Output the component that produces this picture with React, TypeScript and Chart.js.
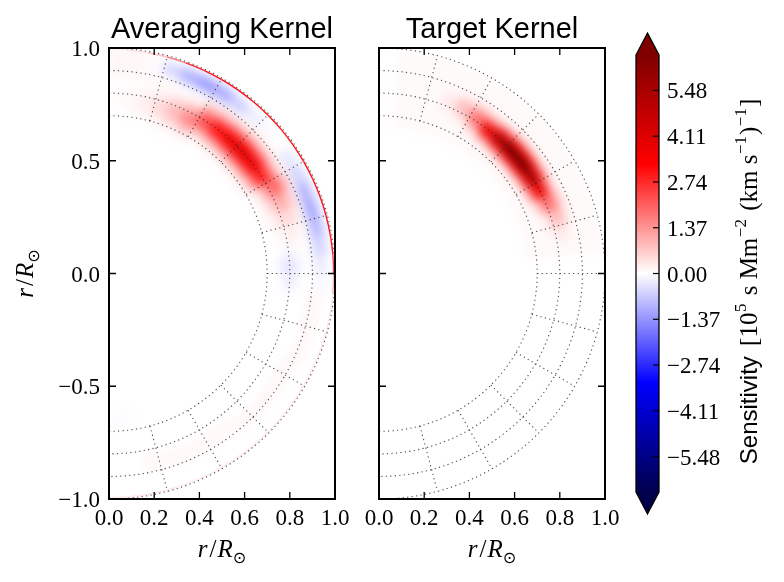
import React, { useEffect, useRef } from 'react';
import { Chart, registerables } from 'chart.js';

Chart.register(...registerables);

const WIDTH = 784;
const HEIGHT = 582;

// ---------------- data ----------------
const PANEL_TITLES = ['Averaging Kernel', 'Target Kernel'];
const X_TICKS = [0.0, 0.2, 0.4, 0.6, 0.8, 1.0];
const Y_TICKS = [-1.0, -0.5, 0.0, 0.5, 1.0];
const COLORBAR_TICKS = [-5.48, -4.11, -2.74, -1.37, 0.0, 1.37, 2.74, 4.11, 5.48];
const COLOR_LIMIT = 6.54;

// polar grid of the kernel maps: ring edges (r/Rsun) and colatitude edges (degrees from the +y axis)
const RING_EDGES = [0.6, 0.625, 0.65, 0.675, 0.7, 0.725, 0.75, 0.775, 0.8, 0.825, 0.85, 0.875, 0.9, 0.925, 0.95, 0.975, 1.0];
const COLAT_EDGES = [0, 5, 10, 15, 20, 25, 30, 35, 40, 45, 50, 55, 60, 65, 70, 75, 80, 85, 90,
  95, 100, 105, 110, 115, 120, 125, 130, 135, 140, 145, 150, 155, 160, 165, 170, 175, 180];

// dotted mesh
const MESH_RADII = [0.7, 0.8, 0.9, 1.0];
const MESH_COLATS = [15, 30, 45, 60, 75, 90, 105, 120, 135, 150, 165];
const MESH_INNER_RADIUS = 0.7;

// Averaging kernel (rows = rings from r=0.6 outward, cols = 5 deg colatitude bins)
const AVG_KERNEL: number[][] = [
  [0, 0, 0, 0, 0, 0, 0, 0, 0, 0, 0, 0, 0, 0, 0, 0, 0, 0, 0, 0, 0, 0, 0, 0, 0, 0, 0, 0, 0, 0, 0, 0, 0, 0, -0.02, -0.03],
  [0, 0, 0, 0, 0, 0, 0, 0, 0, 0, 0, 0, 0, 0, 0, 0, 0, 0, 0, 0, 0, 0, 0, 0, 0, 0, 0, 0, 0, 0, 0, 0, 0, 0, -0.02, -0.03],
  [0, 0, 0, 0.01, 0.02, 0.03, 0, 0, 0, 0, 0, 0, 0, 0, 0, 0, 0, 0, 0, 0, 0, 0, 0, 0, 0, 0, 0, 0, 0, 0, 0, 0, 0, 0, -0.02, -0.02],
  [0, 0.01, 0.02, 0.05, 0.09, 0.15, 0.05, 0.06, 0.07, 0.08, 0.07, 0.06, 0, 0, 0, 0, 0, 0, 0, 0, 0, 0, 0, 0, 0, 0, 0, 0, 0, 0, 0, 0, 0, 0, 0, -0.02],
  [0.01, 0.03, 0.08, 0.16, 0.29, 0.49, 0.22, 0.3, 0.36, 0.38, 0.35, 0.28, 0.04, 0.02, 0, 0, 0, 0, 0, 0, 0, 0, 0, 0, 0, 0, 0, 0, 0, 0, 0, 0, 0, 0, 0, 0],
  [0.03, 0.07, 0.16, 0.34, 0.64, 1.06, 0.73, 0.97, 1.16, 1.24, 1.16, 0.91, 0.18, 0.1, 0.05, 0, 0, 0, 0, 0, 0, 0, 0, 0, 0, 0, 0, 0, 0, 0, 0, 0, 0, 0, 0, 0],
  [0.04, 0.1, 0.24, 0.51, 0.94, 1.57, 1.58, 2.11, 2.52, 2.7, 2.52, 1.97, 0.6, 0.33, 0.15, 0.06, 0, -0.15, 0, 0, 0, 0, 0, 0, 0, 0, 0, 0, 0, 0, 0, 0, 0, 0, 0, 0],
  [0.04, 0.1, 0.24, 0.51, 0.94, 1.57, 2.34, 3.13, 3.74, 4.0, 3.73, 2.92, 1.3, 0.72, 0.33, 0.13, -0.11, -0.35, -0.25, 0, 0, 0, 0, 0, 0, 0, 0, 0, 0, 0, 0, 0, 0, 0, 0, 0],
  [0.03, 0.07, 0.16, 0.34, 0.64, 1.06, 2.34, 3.13, 3.74, 4.0, 3.73, 2.92, 1.93, 1.07, 0.5, 0.2, -0.09, -0.35, -0.25, 0, 0, 0, 0, 0, 0, 0, 0, 0, 0, 0, 0, 0, 0, 0, 0, 0],
  [0.01, 0.03, 0.08, 0.16, 0.29, 0.49, 1.58, 2.11, 2.52, 2.7, 2.52, 1.97, 1.93, 1.07, 0.5, 0.2, 0.06, -0.15, 0, 0, 0, 0, 0, 0, 0, 0, 0, 0, 0.07, 0.07, 0.07, 0.07, 0.07, 0.07, 0, 0],
  [0, 0.01, 0.02, 0.05, 0.09, 0.15, 0.73, 0.97, 1.16, 1.24, 1.16, 0.91, 1.3, 0.72, 0.33, 0.13, 0.04, 0, 0, 0, 0, 0, 0, 0.07, 0.07, 0.07, 0.07, 0.07, 0.11, 0.11, 0.11, 0.11, 0.11, 0.11, 0, 0],
  [0.1, 0.1, 0.1, 0.08, 0.02, 0.03, 0.22, 0.3, 0.36, 0.38, 0.35, 0.28, 0.6, 0.33, 0.15, 0.06, 0.02, 0, 0, 0.08, 0.08, 0.08, 0.08, 0.11, 0.11, 0.11, 0.11, 0.11, 0.07, 0.07, 0.07, 0.07, 0.07, 0.07, 0, 0],
  [0.1, 0.1, 0.06, -0.08, -0.34, -0.42, -0.31, -0.15, -0.01, 0.05, 0.07, -0.09, -0.13, -0.38, -0.5, -0.43, -0.28, -0.13, -0.04, 0.11, 0.11, 0.11, 0.11, 0.07, 0.07, 0.07, 0.07, 0.07, 0, 0, 0, 0, 0, 0, 0, 0],
  [0.1, 0.1, -0.07, -0.63, -1.2, -1.5, -1.27, -0.73, -0.28, -0.07, 0, -0.38, -0.74, -1.2, -1.38, -1.15, -0.7, -0.32, -0.1, 0.06, 0.06, 0.06, 0.06, 0, 0, 0, 0, 0, 0, 0, 0, 0, 0, 0, 0, 0],
  [0.1, 0.1, 0, -0.45, -0.83, -1.05, -0.9, -0.52, -0.2, -0.06, 0, -0.2, -0.42, -0.66, -0.74, -0.62, -0.38, -0.17, -0.06, 0, 0, 0, 0, 0, 0, 0, 0, 0, 0, 0, 0, 0, 0, 0, 0, 0],
  [0.1, 0.1, 0.08, -0.07, -0.14, -0.17, -0.14, -0.08, -0.03, 0, 0, -0.02, -0.05, -0.08, -0.1, -0.08, -0.05, -0.02, 0, 0, 0, 0, 0, 0, 0, 0, 0, 0, 0, 0, 0, 0, 0, 0, 0, 0],
];
// thin sensitivity layer right at the surface (same colatitude bins)
const AVG_SURFACE = [0.2, 0.4, 0.8, 1.6, 2.8, 3.0, 3.0, 3.0, 3.0, 3.0, 3.0, 3.0, 3.0, 3.0, 3.0, 3.0, 3.0, 2.5,
  1.0, 0.3, 0.3, 0.3, 0.3, 0.3, 0.3, 0.3, 0.3, 0.3, 0.3, 0.3, 0.3, 0.3, 0.3, 0.3, 0.3, 0.3];

// Target kernel
const TARGET_KERNEL: number[][] = [
  [0, 0, 0, 0, 0, 0, 0, 0, 0, 0, 0, 0, 0, 0, 0, 0, 0, 0, 0, 0, 0, 0, 0, 0, 0, 0, 0, 0, 0, 0, 0, 0, 0, 0, 0, 0],
  [0, 0, 0, 0, 0, 0, 0, 0, 0, 0, 0, 0, 0, 0, 0, 0, 0, 0, 0, 0, 0, 0, 0, 0, 0, 0, 0, 0, 0, 0, 0, 0, 0, 0, 0, 0],
  [0, 0.07, 0.07, 0.07, 0.07, 0.07, 0.07, 0.07, 0.07, 0.07, 0.07, 0.07, 0.07, 0.07, 0.07, 0.07, 0.07, 0, 0, 0, 0, 0, 0, 0, 0, 0, 0, 0, 0, 0, 0, 0, 0, 0, 0, 0],
  [0, 0.07, 0.07, 0.07, 0.07, 0.07, 0.07, 0.07, 0.07, 0.07, 0.07, 0.07, 0.07, 0.07, 0.07, 0.07, 0.07, 0, 0, 0, 0, 0, 0, 0, 0, 0, 0, 0, 0, 0, 0, 0, 0, 0, 0, 0],
  [0, 0.07, 0.07, 0.07, 0.07, 0.07, 0.07, 0.07, 0.07, 0.11, 0.11, 0.07, 0.07, 0.07, 0.07, 0.07, 0.07, 0, 0, 0, 0, 0, 0, 0, 0, 0, 0, 0, 0, 0, 0, 0, 0, 0, 0, 0],
  [0, 0.07, 0.07, 0.07, 0.07, 0.07, 0.15, 0.47, 0.71, 0.87, 0.87, 0.71, 0.47, 0.15, 0.07, 0.07, 0.07, 0, 0, 0, 0, 0, 0, 0, 0, 0, 0, 0, 0, 0, 0, 0, 0, 0, 0, 0],
  [0, 0.07, 0.07, 0.07, 0.07, 0.11, 0.63, 1.86, 2.83, 3.4, 3.4, 2.83, 1.86, 0.63, 0.11, 0.07, 0.07, 0, 0, 0, 0, 0, 0, 0, 0, 0, 0, 0, 0, 0, 0, 0, 0, 0, 0, 0],
  [0, 0.07, 0.07, 0.07, 0.16, 0.45, 1.51, 3.74, 5.5, 6.6, 6.6, 5.5, 3.74, 1.51, 0.45, 0.16, 0.07, 0, 0, 0, 0, 0, 0, 0, 0, 0, 0, 0, 0, 0, 0, 0, 0, 0, 0, 0],
  [0, 0.07, 0.07, 0.07, 0.31, 0.9, 2.02, 3.74, 5.5, 6.6, 6.6, 5.5, 3.74, 2.02, 0.9, 0.31, 0.07, 0, 0, 0, 0, 0, 0, 0, 0, 0, 0, 0, 0, 0, 0, 0, 0, 0, 0, 0],
  [0, 0.07, 0.07, 0.07, 0.31, 0.9, 1.51, 1.86, 2.83, 3.4, 3.4, 2.83, 1.86, 1.51, 0.9, 0.31, 0.07, 0, 0, 0, 0, 0, 0, 0, 0, 0, 0, 0, 0, 0, 0, 0, 0, 0, 0, 0],
  [0, 0.07, 0.07, 0.07, 0.16, 0.45, 0.63, 0.47, 0.71, 0.87, 0.87, 0.71, 0.47, 0.63, 0.45, 0.16, 0.07, 0, 0, 0, 0, 0, 0, 0, 0, 0, 0, 0, 0, 0, 0, 0, 0, 0, 0, 0],
  [0, 0.07, 0.07, 0.07, 0.07, 0.11, 0.15, 0.07, 0.07, 0.11, 0.11, 0.07, 0.07, 0.15, 0.11, 0.07, 0.07, 0, 0, 0, 0, 0, 0, 0, 0, 0, 0, 0, 0, 0, 0, 0, 0, 0, 0, 0],
  [0, 0.07, 0.07, 0.07, 0.07, 0.07, 0.07, 0.07, 0.07, 0.07, 0.07, 0.07, 0.07, 0.07, 0.07, 0.07, 0.07, 0, 0, 0, 0, 0, 0, 0, 0, 0, 0, 0, 0, 0, 0, 0, 0, 0, 0, 0],
  [0, 0.07, 0.07, 0.07, 0.07, 0.07, 0.07, 0.07, 0.07, 0.07, 0.07, 0.07, 0.07, 0.07, 0.07, 0.07, 0.07, 0, 0, 0, 0, 0, 0, 0, 0, 0, 0, 0, 0, 0, 0, 0, 0, 0, 0, 0],
  [0, 0.07, 0.07, 0.07, 0.07, 0.07, 0.07, 0.07, 0.07, 0.07, 0.07, 0.07, 0.07, 0.07, 0.07, 0.07, 0.07, 0, 0, 0, 0, 0, 0, 0, 0, 0, 0, 0, 0, 0, 0, 0, 0, 0, 0, 0],
  [0, 0.07, 0.07, 0.07, 0.07, 0.07, 0.07, 0.07, 0.07, 0.07, 0.07, 0.07, 0.07, 0.07, 0.07, 0.07, 0.07, 0, 0, 0, 0, 0, 0, 0, 0, 0, 0, 0, 0, 0, 0, 0, 0, 0, 0, 0],
];

// ---------------- style ----------------
const SERIF = '"Liberation Serif", "DejaVu Serif", serif';
const SANS = '"Liberation Sans", Arial, sans-serif';
const TICK_FONT = `23px ${SERIF}`;
const SEISMIC = [[0, 0, 0.3], [0, 0, 1], [1, 1, 1], [1, 0, 0], [0.5, 0, 0]];

function seismic(v: number): string {
  let f = (v + COLOR_LIMIT) / (2 * COLOR_LIMIT);
  f = Math.max(0, Math.min(1, f));
  const p = f * 4;
  const k = Math.min(3, Math.floor(p));
  const t = p - k;
  const a = SEISMIC[k];
  const b = SEISMIC[k + 1];
  const c = a.map((x, n) => Math.round(255 * (x + (b[n] - x) * t)));
  return `rgb(${c[0]},${c[1]},${c[2]})`;
}

type Run = { text: string; font: string; dy?: number; gap?: number };

function drawRuns(ctx: CanvasRenderingContext2D, runs: Run[], x: number, y: number, align: 'left' | 'center') {
  const widths = runs.map((r) => {
    ctx.font = r.font;
    return ctx.measureText(r.text).width + (r.gap || 0);
  });
  const total = widths.reduce((a, b) => a + b, 0);
  let cur = align === 'center' ? x - total / 2 : x;
  ctx.textAlign = 'left';
  ctx.textBaseline = 'alphabetic';
  runs.forEach((r, i) => {
    ctx.font = r.font;
    ctx.fillText(r.text, cur, y + (r.dy || 0));
    cur += widths[i];
  });
}

const R_LABEL: Run[] = [
  { text: 'r', font: `italic 25px ${SERIF}`, gap: 2 },
  { text: '/', font: `25px ${SERIF}`, gap: 1 },
  { text: 'R', font: `italic 25px ${SERIF}`, gap: 0 },
  { text: '\u2299', font: `16px "DejaVu Sans", sans-serif`, dy: 6 },
];

const CB_LABEL: Run[] = [
  { text: 'Sensitivity', font: `24px ${SANS}`, gap: 4 },
  { text: ' [10', font: `25px ${SERIF}`, gap: 0.5 },
  { text: '5', font: `17px ${SERIF}`, dy: -11, gap: 2 },
  { text: ' s Mm', font: `25px ${SERIF}`, gap: 0.5 },
  { text: '\u22122', font: `17px ${SERIF}`, dy: -11, gap: 2 },
  { text: ' (km s', font: `25px ${SERIF}`, gap: 0.5 },
  { text: '\u22121', font: `17px ${SERIF}`, dy: -11, gap: 1 },
  { text: ')', font: `25px ${SERIF}`, gap: 0.5 },
  { text: '\u22121', font: `17px ${SERIF}`, dy: -11, gap: 1 },
  { text: ']', font: `25px ${SERIF}` },
];

const fmtSigned = (v: number, d: number) => (v < 0 ? '\u2212' + Math.abs(v).toFixed(d) : v.toFixed(d));
const rad = (deg: number) => (deg * Math.PI) / 180;

type PanelSpec = {
  key: string;
  title: string;
  grid: number[][];
  surface: number[] | null;
  showYLabels: boolean;
  padding: { left: number; right: number; top: number; bottom: number };
};

function makePanelPlugin(spec: PanelSpec) {
  return {
    id: 'kernelPanel' + spec.key,
    afterDraw(chart: any) {
      const ctx: CanvasRenderingContext2D = chart.ctx;
      const xs = chart.scales.x;
      const ys = chart.scales.y;
      const area = chart.chartArea;
      const cx = xs.getPixelForValue(0);
      const cy = ys.getPixelForValue(0);
      const kx = xs.getPixelForValue(1) - cx;
      const ky = cy - ys.getPixelForValue(1);

      // ---- heat map on an offscreen canvas, then smoothed into the half disc
      const off = document.createElement('canvas');
      off.width = chart.width;
      off.height = chart.height;
      const o = off.getContext('2d')!;
      o.fillStyle = '#ffffff';
      o.fillRect(0, 0, off.width, off.height);
      spec.grid.forEach((row, i) => {
        const r0 = RING_EDGES[i];
        const r1 = RING_EDGES[i + 1];
        row.forEach((v, j) => {
          if (Math.abs(v) < 0.005) return;
          const a0 = rad(COLAT_EDGES[j]) - Math.PI / 2;
          const a1 = rad(COLAT_EDGES[j + 1]) - Math.PI / 2;
          o.beginPath();
          o.ellipse(cx, cy, r1 * kx, r1 * ky, 0, a0, a1, false);
          o.ellipse(cx, cy, r0 * kx, r0 * ky, 0, a1, a0, true);
          o.closePath();
          const col = seismic(v);
          o.fillStyle = col;
          o.strokeStyle = col;
          o.lineWidth = 1;
          o.fill();
          o.stroke();
        });
      });
      ctx.save();
      ctx.beginPath();
      ctx.ellipse(cx, cy, kx, ky, 0, -Math.PI / 2, Math.PI / 2, false);
      ctx.closePath();
      ctx.clip();
      ctx.filter = 'blur(5px)';
      ctx.drawImage(off, 0, 0);
      ctx.filter = 'none';
      if (spec.surface) {
        spec.surface.forEach((v, j) => {
          if (Math.abs(v) < 0.05) return;
          const a0 = rad(COLAT_EDGES[j]) - Math.PI / 2;
          const a1 = rad(COLAT_EDGES[j + 1]) - Math.PI / 2;
          ctx.beginPath();
          ctx.ellipse(cx, cy, 0.994 * kx, 0.994 * ky, 0, a0, a1, false);
          ctx.strokeStyle = seismic(v);
          ctx.lineWidth = 1.4;
          ctx.stroke();
        });
      }
      ctx.restore();

      // ---- dotted mesh
      ctx.save();
      ctx.beginPath();
      ctx.rect(area.left, area.top, area.right - area.left, area.bottom - area.top);
      ctx.clip();
      ctx.setLineDash([1.2, 3.3]);
      ctx.strokeStyle = 'rgba(45,45,45,0.85)';
      ctx.lineWidth = 1.1;
      MESH_RADII.forEach((r) => {
        ctx.beginPath();
        ctx.ellipse(cx, cy, r * kx, r * ky, 0, -Math.PI / 2, Math.PI / 2, false);
        ctx.stroke();
      });
      MESH_COLATS.forEach((c) => {
        const s = Math.sin(rad(c));
        const co = Math.cos(rad(c));
        ctx.beginPath();
        ctx.moveTo(xs.getPixelForValue(MESH_INNER_RADIUS * s), ys.getPixelForValue(MESH_INNER_RADIUS * co));
        ctx.lineTo(xs.getPixelForValue(1.0 * s), ys.getPixelForValue(1.0 * co));
        ctx.stroke();
      });
      ctx.restore();

      // ---- frame and inward ticks
      ctx.save();
      ctx.strokeStyle = '#000';
      ctx.lineWidth = 1.3;
      const tl = 7;
      X_TICKS.forEach((v) => {
        const px = xs.getPixelForValue(v);
        ctx.beginPath();
        ctx.moveTo(px, area.bottom);
        ctx.lineTo(px, area.bottom - tl);
        ctx.moveTo(px, area.top);
        ctx.lineTo(px, area.top + tl);
        ctx.stroke();
      });
      Y_TICKS.forEach((v) => {
        const py = ys.getPixelForValue(v);
        ctx.beginPath();
        ctx.moveTo(area.left, py);
        ctx.lineTo(area.left + tl, py);
        ctx.moveTo(area.right, py);
        ctx.lineTo(area.right - tl, py);
        ctx.stroke();
      });
      ctx.lineWidth = 2;
      ctx.strokeRect(area.left, area.top, area.right - area.left, area.bottom - area.top);

      // ---- text
      ctx.fillStyle = '#000';
      ctx.font = TICK_FONT;
      ctx.textAlign = 'center';
      ctx.textBaseline = 'alphabetic';
      X_TICKS.forEach((v) => {
        ctx.fillText(v.toFixed(1), xs.getPixelForValue(v), area.bottom + 26);
      });
      if (spec.showYLabels) {
        ctx.textAlign = 'right';
        Y_TICKS.forEach((v) => {
          ctx.fillText(fmtSigned(v, 1), area.left - 9, ys.getPixelForValue(v) + 8);
        });
      }
      const midX = (area.left + area.right) / 2;
      ctx.font = `29px ${SANS}`;
      ctx.textAlign = 'center';
      ctx.fillText(spec.title, midX, 38);
      drawRuns(ctx, R_LABEL, midX, 557, 'center');
      if (spec.showYLabels) {
        ctx.save();
        ctx.translate(33, (area.top + area.bottom) / 2);
        ctx.rotate(-Math.PI / 2);
        drawRuns(ctx, R_LABEL, 0, 0, 'center');
        ctx.restore();
      }
      ctx.restore();
    },
  };
}

function panelConfig(spec: PanelSpec): any {
  return {
    type: 'scatter',
    data: { datasets: [] },
    options: {
      responsive: false,
      animation: false,
      devicePixelRatio: 1,
      events: [],
      layout: { autoPadding: false, padding: spec.padding },
      plugins: { legend: { display: false }, tooltip: { enabled: false }, title: { display: false } },
      scales: {
        x: { type: 'linear', display: false, min: 0, max: 1 },
        y: { type: 'linear', display: false, min: -1, max: 1 },
      },
    },
    plugins: [makePanelPlugin(spec)],
  };
}

const colorbarPlugin = {
  id: 'sensitivityColorbar',
  afterDraw(chart: any) {
    const ctx: CanvasRenderingContext2D = chart.ctx;
    const ys = chart.scales.y;
    const area = chart.chartArea;
    const left = area.left;
    const right = area.right;
    const top = ys.getPixelForValue(COLOR_LIMIT);
    const bottom = ys.getPixelForValue(-COLOR_LIMIT);
    const ext = 0.05 * (bottom - top);
    const mid = (left + right) / 2;
    ctx.save();
    for (let y = Math.floor(top); y < Math.ceil(bottom); y++) {
      ctx.fillStyle = seismic(ys.getValueForPixel(y + 0.5));
      ctx.fillRect(left, y, right - left, 1);
    }
    ctx.fillStyle = seismic(COLOR_LIMIT * 2);
    ctx.beginPath();
    ctx.moveTo(left, top + 0.5);
    ctx.lineTo(mid, top - ext);
    ctx.lineTo(right, top + 0.5);
    ctx.closePath();
    ctx.fill();
    ctx.fillStyle = seismic(-COLOR_LIMIT * 2);
    ctx.beginPath();
    ctx.moveTo(left, bottom - 0.5);
    ctx.lineTo(mid, bottom + ext);
    ctx.lineTo(right, bottom - 0.5);
    ctx.closePath();
    ctx.fill();
    ctx.strokeStyle = '#000';
    ctx.lineWidth = 1.3;
    ctx.beginPath();
    ctx.moveTo(left, top);
    ctx.lineTo(mid, top - ext);
    ctx.lineTo(right, top);
    ctx.lineTo(right, bottom);
    ctx.lineTo(mid, bottom + ext);
    ctx.lineTo(left, bottom);
    ctx.closePath();
    ctx.stroke();
    ctx.lineWidth = 1.2;
    ctx.fillStyle = '#000';
    ctx.font = TICK_FONT;
    ctx.textAlign = 'left';
    ctx.textBaseline = 'alphabetic';
    COLORBAR_TICKS.forEach((v) => {
      const py = ys.getPixelForValue(v);
      ctx.beginPath();
      ctx.moveTo(right, py);
      ctx.lineTo(right - 6, py);
      ctx.stroke();
      ctx.fillText(fmtSigned(v, 2), right + 8, py + 8);
    });
    ctx.translate(757, (top + bottom) / 2 + 8);
    ctx.rotate(-Math.PI / 2);
    drawRuns(ctx, CB_LABEL, 0, 0, 'center');
    ctx.restore();
  },
};

function colorbarConfig(): any {
  return {
    type: 'scatter',
    data: { datasets: [] },
    options: {
      responsive: false,
      animation: false,
      devicePixelRatio: 1,
      events: [],
      layout: { autoPadding: false, padding: { left: 636, right: WIDTH - 659, top: 55, bottom: HEIGHT - 492 } },
      plugins: { legend: { display: false }, tooltip: { enabled: false }, title: { display: false } },
      scales: {
        x: { type: 'linear', display: false, min: 0, max: 1 },
        y: { type: 'linear', display: false, min: -COLOR_LIMIT, max: COLOR_LIMIT },
      },
    },
    plugins: [colorbarPlugin],
  };
}

const PANELS: PanelSpec[] = [
  {
    key: 'avg',
    title: PANEL_TITLES[0],
    grid: AVG_KERNEL,
    surface: AVG_SURFACE,
    showYLabels: true,
    padding: { left: 109, right: WIDTH - 335, top: 48, bottom: HEIGHT - 499 },
  },
  {
    key: 'target',
    title: PANEL_TITLES[1],
    grid: TARGET_KERNEL,
    surface: null,
    showYLabels: false,
    padding: { left: 379, right: WIDTH - 605, top: 48, bottom: HEIGHT - 499 },
  },
];

export default function App() {
  const c1 = useRef<HTMLCanvasElement>(null);
  const c2 = useRef<HTMLCanvasElement>(null);
  const c3 = useRef<HTMLCanvasElement>(null);

  useEffect(() => {
    const charts = [
      new Chart(c1.current!, panelConfig(PANELS[0])),
      new Chart(c2.current!, panelConfig(PANELS[1])),
      new Chart(c3.current!, colorbarConfig()),
    ];
    return () => charts.forEach((c) => c.destroy());
  }, []);

  const st: React.CSSProperties = { position: 'absolute', left: 0, top: 0, width: WIDTH, height: HEIGHT };
  return (
    <div style={{ position: 'absolute', left: 0, top: 0, width: WIDTH, height: HEIGHT, background: '#fff', overflow: 'hidden' }}>
      <canvas ref={c1} width={WIDTH} height={HEIGHT} style={st} />
      <canvas ref={c2} width={WIDTH} height={HEIGHT} style={st} />
      <canvas ref={c3} width={WIDTH} height={HEIGHT} style={st} />
    </div>
  );
}
